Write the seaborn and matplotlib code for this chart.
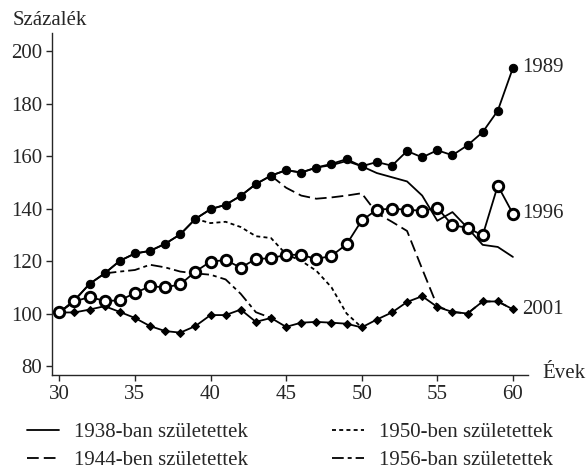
import numpy as np
import pandas as pd
import matplotlib
matplotlib.use("Agg")
import matplotlib.pyplot as plt
from matplotlib.lines import Line2D
import seaborn as sns

# ---- data ----
ages = list(range(30, 61))
y1989 = [100.4, 105, 111.3, 115.3, 120.1, 122.9, 123.9, 126.6, 130.2, 136.1, 139.8,
         141.5, 144.9, 149.4, 152.6, 154.7, 153.8, 155.7, 157.1, 158.9, 156.2,
         157.8, 156.4, 162.0, 159.6, 162.3, 160.4, 164.2, 169.2, 177.4, 193.7]
y1996 = [100.4, 104.6, 106.3, 104.8, 105.0, 107.8, 110.4, 110.0, 111.1, 116.0, 119.8,
         120.4, 117.5, 120.8, 121.1, 122.4, 122.4, 120.8, 122.0, 126.4, 135.5,
         139.6, 140.0, 139.6, 139.2, 140.3, 133.7, 132.7, 129.8, 148.8, 138.1]
y2001 = [100.4, 100.4, 101.5, 102.8, 100.6, 98.3, 95.2, 93.3, 92.7, 95.2, 99.4,
         99.4, 101.5, 96.8, 98.3, 94.9, 96.5, 96.8, 96.5, 96.1, 94.7,
         97.7, 100.4, 104.4, 106.6, 102.5, 100.6, 100.0, 104.6, 104.6, 101.6]

c1938_x = list(range(30, 61))
c1938_y = [100.4, 105, 111.3, 115.3, 120.1, 122.9, 123.9, 126.6, 130.2, 136.1, 139.8,
           141.5, 144.9, 149.4, 152.6, 154.7, 153.8, 155.7, 156.6, 158.2, 156.2,
           153.6, 152.0, 150.4, 145.0, 135.4, 138.7, 132.7, 126.2, 125.4, 121.6]
c1944_x = [44, 45, 46, 47, 48, 49, 50, 51, 52, 53, 54, 55, 56, 57, 58, 59, 60]
c1944_y = [152.6, 148.0, 145.0, 143.8, 144.3, 145.0, 145.9, 138.3, 135.0, 131.5, 117.0,
           102.8, 100.6, 100.0, 104.6, 104.6, 101.6]
c1950_x = [39, 40, 41, 42, 43, 44, 45, 46, 47, 48, 49, 50]
c1950_y = [136.1, 134.5, 135.0, 133.0, 129.5, 128.8, 122.6, 120.1, 116.3, 110.0, 100.0, 94.7]
c1956_x = [33, 34, 35, 36, 37, 38, 39, 40, 41, 42, 43, 44]
c1956_y = [115.3, 116.0, 116.6, 118.6, 117.6, 116.0, 115.3, 114.8, 113.0, 107.5, 100.5, 98.3]

year_labels = ["1989", "1996", "2001"]
cohort_labels = ["1938-ban születettek", "1944-ben születettek",
                 "1950-ben születettek", "1956-ban születettek"]
xticks = [30, 35, 40, 45, 50, 55, 60]
yticks = [80, 100, 120, 140, 160, 180, 200]

# ---- style ----
sns.set_style("ticks")
plt.rcParams["font.family"] = ["Liberation Serif", "DejaVu Serif"]
FS = 15
plt.rcParams["font.size"] = FS

fig = plt.figure(figsize=(5.88, 4.73), dpi=100)
ax = fig.add_axes([0.088, 0.207, 0.81, 0.723])

lw = 1.3
dash_styles = [(None), (6.5, 2.8), (2.2, 1.8), (6.5, 2.2, 2.2, 2.2)]

cohorts = [(c1938_x, c1938_y), (c1944_x, c1944_y), (c1950_x, c1950_y), (c1956_x, c1956_y)]
for (cx, cy), ds in zip(cohorts, dash_styles):
    df = pd.DataFrame({"x": cx, "y": cy})
    sns.lineplot(data=df, x="x", y="y", ax=ax, color="black", lw=lw, legend=False)
    line = ax.lines[-1]
    if ds is not None:
        line.set_dashes(ds)

# year series
df89 = pd.DataFrame({"x": ages, "y": y1989})
sns.lineplot(data=df89, x="x", y="y", ax=ax, color="black", lw=lw, marker="o",
             markersize=6, markeredgecolor="black", markerfacecolor="black", legend=False)
df01 = pd.DataFrame({"x": ages, "y": y2001})
sns.lineplot(data=df01, x="x", y="y", ax=ax, color="black", lw=lw, marker="D",
             markersize=3.6, markeredgecolor="black", markerfacecolor="black", legend=False)
df96 = pd.DataFrame({"x": ages, "y": y1996})
sns.lineplot(data=df96, x="x", y="y", ax=ax, color="black", lw=lw, marker="o",
             markersize=7.5, markeredgecolor="black", markerfacecolor="white",
             markeredgewidth=2.1, legend=False)

# end labels
for lab, yv in zip(year_labels, [y1989[-1], y1996[-1], y2001[-1]]):
    ax.text(60.6, yv, lab, ha="left", va="center", fontsize=FS)

ax.set_xlim(29.5, 61.0)
ax.set_ylim(76.5, 207)
ax.set_xticks(xticks)
ax.set_yticks(yticks)
ax.tick_params(axis="both", direction="out", length=4, width=1, labelsize=FS, pad=3)
ax.set_xlabel("")
ax.set_ylabel("")
sns.despine(ax=ax)
for s in ["left", "bottom"]:
    ax.spines[s].set_linewidth(1.0)

fig.text(0.022, 0.937, "Százalék", fontsize=FS, ha="left", va="bottom")
fig.text(0.922, 0.21, "Évek", fontsize=FS, ha="left", va="center")

handles = []
for ds in dash_styles:
    h = Line2D([0], [0], color="black", lw=lw)
    if ds is not None:
        h.set_dashes(ds)
    handles.append(h)
fig.legend(handles, cohort_labels, ncol=2, frameon=False, loc="upper left",
           bbox_to_anchor=(0.046, 0.106), borderpad=0, borderaxespad=0,
           handlelength=1.55, handletextpad=0.72, columnspacing=4.0,
           labelspacing=0.38, fontsize=FS)

fig.savefig("out.png", dpi=100)
